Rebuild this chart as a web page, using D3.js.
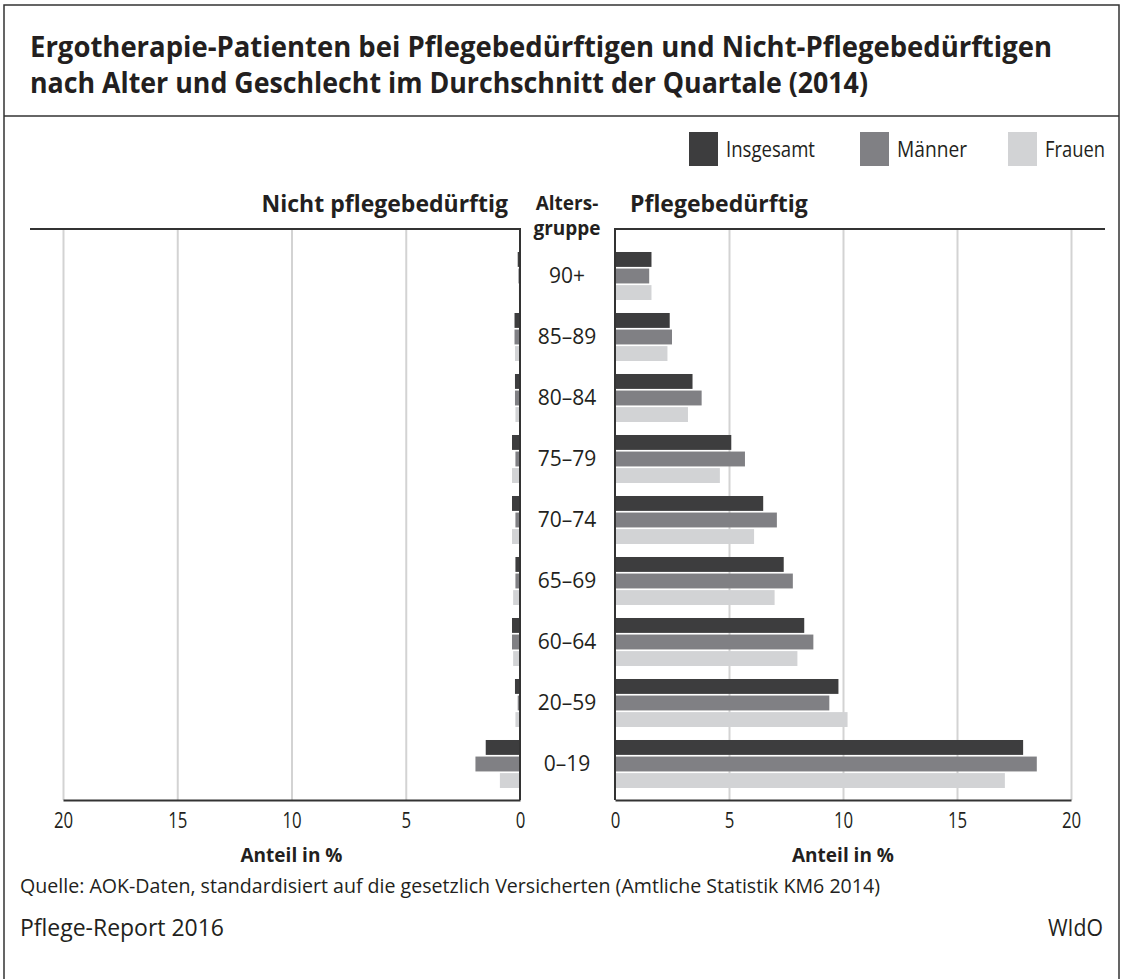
<!DOCTYPE html>
<html lang="de">
<head>
    <meta charset="UTF-8"/>
    <title>Ergotherapie-Patienten</title>
    <script src="https://d3js.org/d3.v7.min.js"></script>
    <style>
        body { margin: 0; background: #fff; }
        svg text { font-family: "Open Sans", sans-serif; fill: #231f20; }
    </style>
</head>
<body>
<script>

    var w = 1121;
    var h = 979;

    // data
    var ageGroups = ["90+", "85–89", "80–84", "75–79", "70–74", "65–69", "60–64", "20–59", "0–19"];
    var seriesNames = ["Insgesamt", "Männer", "Frauen"];
    var seriesColors = ["#3d3d3e", "#808084", "#d2d3d5"];

    // Pflegebedürftig (rechts)
    var pflegeInsgesamt = [1.6, 2.4, 3.4, 5.1, 6.5, 7.4, 8.3, 9.8, 17.9];
    var pflegeMaenner   = [1.5, 2.5, 3.8, 5.7, 7.1, 7.8, 8.7, 9.4, 18.5];
    var pflegeFrauen    = [1.6, 2.3, 3.2, 4.6, 6.1, 7.0, 8.0, 10.2, 17.1];

    // Nicht pflegebedürftig (links)
    var nichtInsgesamt = [0.1, 0.24, 0.22, 0.35, 0.35, 0.2, 0.35, 0.22, 1.5];
    var nichtMaenner   = [0.07, 0.24, 0.22, 0.2, 0.2, 0.2, 0.35, 0.1, 1.95];
    var nichtFrauen    = [0.05, 0.22, 0.2, 0.35, 0.35, 0.3, 0.3, 0.2, 0.88];

    var tickValues = [0, 5, 10, 15, 20];

    var pflege = [pflegeInsgesamt, pflegeMaenner, pflegeFrauen];
    var nicht = [nichtInsgesamt, nichtMaenner, nichtFrauen];

    var svg = d3.select("body")
                .append("svg")
                .attr("width", w)
                .attr("height", h);

    // squeeze text to a width (the original uses a condensed face)
    function fit(sel, len) {
        sel.attr("textLength", len).attr("lengthAdjust", "spacingAndGlyphs");
    }

    // outer frame
    svg.append("path")
        .attr("d", "M4,979 V5 H1119 V979")
        .attr("fill", "none")
        .attr("stroke", "#333")
        .attr("stroke-width", 1.5);
    svg.append("line")
        .attr("x1", 4).attr("x2", 1119)
        .attr("y1", 116).attr("y2", 116)
        .attr("stroke", "#333")
        .attr("stroke-width", 1.5);

    // title
    svg.append("text")
        .attr("x", 30).attr("y", 57)
        .style("font-size", "28px").style("font-weight", "bold")
        .text("Ergotherapie-Patienten bei Pflegebedürftigen und Nicht-Pflegebedürftigen")
        .call(fit, 1022);
    svg.append("text")
        .attr("x", 30).attr("y", 93)
        .style("font-size", "28px").style("font-weight", "bold")
        .text("nach Alter und Geschlecht im Durchschnitt der Quartale (2014)")
        .call(fit, 838);

    var plotTop = 229, plotBottom = 800;

    var xLeft = d3.scaleLinear().domain([0, 20]).range([520, 63]);
    var xRight = d3.scaleLinear().domain([0, 20]).range([615, 1071]);

    var yScale = d3.scaleBand()
                    .domain(ageGroups)
                    .range([245.5, 794.5])
                    .paddingInner(0.213)
                    .paddingOuter(0.1065);

    var ySub = d3.scaleBand()
                    .domain(d3.range(seriesNames.length))
                    .range([0, yScale.bandwidth()])
                    .paddingInner(0.1);

    // gridlines
    [xLeft, xRight].forEach(function(sc){
        svg.append("g")
            .attr("transform", "translate(0," + plotBottom + ")")
            .call(d3.axisBottom(sc).tickValues(tickValues.slice(1)).tickSize(-(plotBottom - plotTop)).tickFormat(""))
            .call(function(g){ g.select(".domain").remove(); })
            .selectAll("line").attr("stroke", "#d3d3d3").attr("stroke-width", 2);
    });

    // bars
    for (var s = 0; s < seriesNames.length; s++) {
        svg.append("g").selectAll("rect")
            .data(pflege[s])
            .enter()
            .append("rect")
            .attr("x", xRight(0))
            .attr("y", function(d, i){ return yScale(ageGroups[i]) + ySub(s); })
            .attr("width", function(d){ return xRight(d) - xRight(0); })
            .attr("height", ySub.bandwidth())
            .style("fill", seriesColors[s]);

        svg.append("g").selectAll("rect")
            .data(nicht[s])
            .enter()
            .append("rect")
            .attr("x", function(d){ return xLeft(d); })
            .attr("y", function(d, i){ return yScale(ageGroups[i]) + ySub(s); })
            .attr("width", function(d){ return xLeft(0) - xLeft(d); })
            .attr("height", ySub.bandwidth())
            .style("fill", seriesColors[s]);
    }

    // panel frames
    svg.append("path")
        .attr("d", "M30," + plotTop + " H" + xLeft(0) + " V" + plotBottom)
        .attr("fill", "none").attr("stroke", "#333").attr("stroke-width", 2);
    svg.append("path")
        .attr("d", "M1105," + plotTop + " H" + xRight(0) + " V" + plotBottom)
        .attr("fill", "none").attr("stroke", "#333").attr("stroke-width", 2);

    // axes
    [xLeft, xRight].forEach(function(sc){
        var ax = svg.append("g")
            .attr("transform", "translate(0," + plotBottom + ")")
            .call(d3.axisBottom(sc).tickValues(tickValues).tickSize(0).tickPadding(13));
        ax.select(".domain").attr("stroke", "#333").attr("stroke-width", 2);
        ax.selectAll("text").style("font-size", "21px").attr("fill", "#231f20")
          .style("font-family", "\"Open Sans\", sans-serif")
          .attr("transform", "scale(0.8,1)");
    });

    // axis titles
    svg.append("text")
        .attr("x", xLeft(10)).attr("y", 862)
        .attr("text-anchor", "middle")
        .style("font-size", "19px").style("font-weight", "bold")
        .text("Anteil in %");
    svg.append("text")
        .attr("x", xRight(10)).attr("y", 862)
        .attr("text-anchor", "middle")
        .style("font-size", "19px").style("font-weight", "bold")
        .text("Anteil in %");

    // panel headings
    svg.append("text")
        .attr("x", 508).attr("y", 212)
        .attr("text-anchor", "end")
        .style("font-size", "23px").style("font-weight", "bold")
        .text("Nicht pflegebedürftig");
    svg.append("text")
        .attr("x", 630).attr("y", 212)
        .style("font-size", "23px").style("font-weight", "bold")
        .text("Pflegebedürftig");
    svg.append("text")
        .attr("x", 567).attr("y", 210)
        .attr("text-anchor", "middle")
        .style("font-size", "19px").style("font-weight", "bold")
        .text("Alters-");
    svg.append("text")
        .attr("x", 567).attr("y", 235)
        .attr("text-anchor", "middle")
        .style("font-size", "19px").style("font-weight", "bold")
        .text("gruppe");

    // age labels
    svg.append("g").selectAll("text")
        .data(ageGroups)
        .enter()
        .append("text")
        .attr("x", 567)
        .attr("y", function(d){ return yScale(d) + yScale.bandwidth() / 2; })
        .attr("dy", "0.35em")
        .attr("text-anchor", "middle")
        .style("font-size", "21px")
        .text(function(d){ return d; });

    // legend
    var legendX = [689, 860, 1008];
    var legendLen = [89, 70, 60];
    var legend = svg.append("g").selectAll("g")
        .data(seriesNames)
        .enter()
        .append("g")
        .attr("transform", function(d, i){ return "translate(" + legendX[i] + ",132)"; });
    legend.append("rect")
        .attr("width", 29).attr("height", 34)
        .style("fill", function(d, i){ return seriesColors[i]; });
    legend.append("text")
        .attr("x", 37).attr("y", 25)
        .style("font-size", "21px")
        .attr("textLength", function(d, i){ return legendLen[i]; })
        .attr("lengthAdjust", "spacingAndGlyphs")
        .text(function(d){ return d; });

    // source / footer
    svg.append("text")
        .attr("x", 20).attr("y", 893)
        .style("font-size", "20px")
        .text("Quelle: AOK-Daten, standardisiert auf die gesetzlich Versicherten (Amtliche Statistik KM6 2014)")
        .call(fit, 860);
    svg.append("text")
        .attr("x", 20).attr("y", 936)
        .style("font-size", "23px")
        .text("Pflege-Report 2016")
        .call(fit, 204);
    svg.append("text")
        .attr("x", 1048).attr("y", 936)
        .style("font-size", "23px")
        .text("WIdO")
        .call(fit, 55);

</script>
</body>
</html>
